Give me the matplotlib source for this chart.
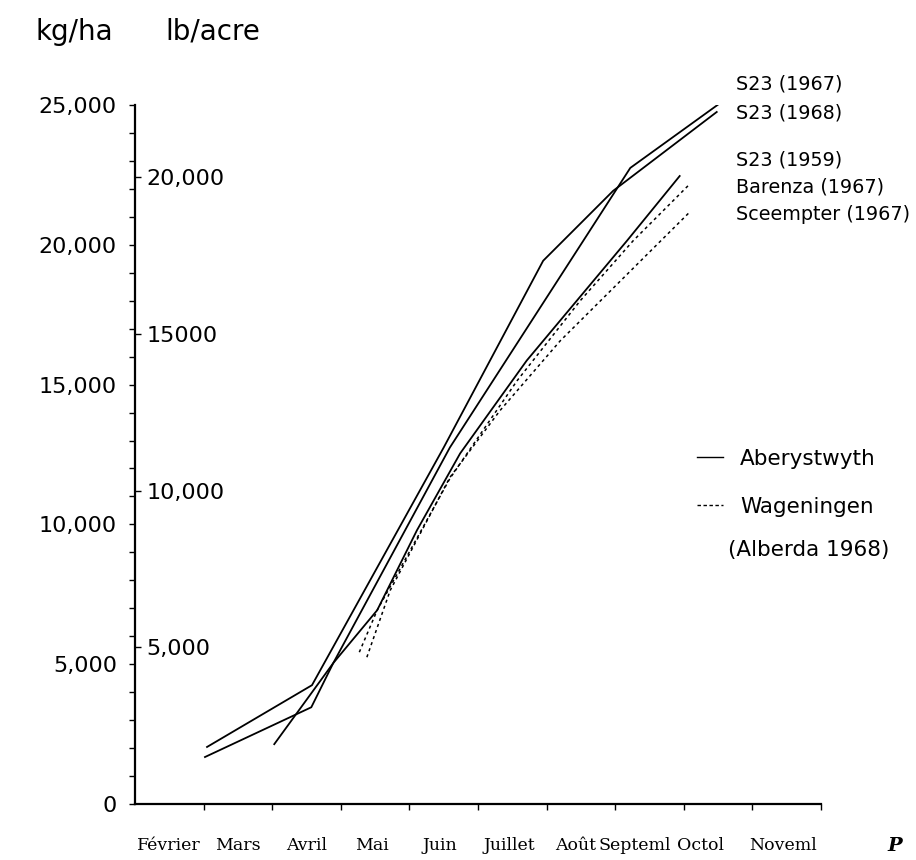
import numpy as np
import matplotlib
matplotlib.use("Agg")
import matplotlib.pyplot as plt
from matplotlib.lines import Line2D

# x = months counted from 1 February, y = dry matter in kg/ha
months = ["Février", "Mars", "Avril", "Mai", "Juin", "Juillet", "Août",
          "Septeml", "Octol", "Noveml"]
month_pos = [0.5, 1.5, 2.5, 3.45, 4.45, 5.45, 6.42, 7.28, 8.24, 9.45]

s23_1967_x = [2.03, 2.89, 4.59, 7.22, 8.57]
s23_1967_y = [2140, 5040, 12750, 22750, 25140]
s23_1968_x = [1.05, 2.58, 4.50, 5.95, 6.97, 8.48]
s23_1968_y = [2040, 4250, 12750, 19430, 21930, 24750]
s23_1959_x = [1.02, 2.57, 2.89, 3.53, 4.11, 4.74, 5.71, 7.17, 7.94]
s23_1959_y = [1680, 3460, 5040, 6930, 9790, 12540, 15860, 20140, 22460]
barenza_x = [3.27, 3.53, 4.59, 5.57, 6.49, 7.26, 8.09]
barenza_y = [5430, 6930, 11640, 15140, 18000, 20140, 22180]
sceempter_x = [3.38, 3.72, 4.59, 5.32, 6.20, 8.09]
sceempter_y = [5250, 7640, 11680, 14070, 16570, 21180]

kg_ticks = [0, 5000, 10000, 15000, 20000, 25000]
kg_labels = ["0", "5,000", "10,000", "15,000", "20,000", "25,000"]
lb_ticks = [5000, 10000, 15000, 20000]
lb_labels = ["5,000", "10,000", "15000", "20,000"]
LB_TO_KG = 1.12085

plt.rcParams['font.family'] = ['DejaVu Sans']

fig = plt.figure(figsize=(9.16, 8.6), dpi=100)
ax = fig.add_axes([135 / 916, 1 - 804 / 860, 686 / 916, 699 / 860])

solid = dict(color='black', lw=1.3, solid_joinstyle='miter')
dashed = dict(color='black', lw=1.1, linestyle=(0, (2.0, 2.2)))
ax.plot(s23_1967_x, s23_1967_y, **solid)
ax.plot(s23_1968_x, s23_1968_y, **solid)
ax.plot(s23_1959_x, s23_1959_y, **solid)
ax.plot(barenza_x, barenza_y, **dashed)
ax.plot(sceempter_x, sceempter_y, **dashed)

ax.set_xlim(0, 10)
ax.set_ylim(0, 25000)
ax.spines['top'].set_visible(False)
ax.spines['right'].set_visible(False)
ax.spines['left'].set_linewidth(1.6)
ax.spines['bottom'].set_linewidth(1.6)

ax.set_xticks(np.arange(1, 11))
ax.set_xticklabels([])
ax.tick_params(axis='x', direction='out', length=4, width=1)

ax.set_yticks(kg_ticks)
ax.set_yticklabels(kg_labels, fontsize=16)
ax.set_yticks(np.arange(0, 25001, 1000), minor=True)
ax.tick_params(axis='y', which='both', direction='out', length=4, width=1, pad=9)

# lb/acre scale drawn on the same spine, labels inside
ax2 = ax.twinx()
ax2.set_ylim(0, 25000 / LB_TO_KG)
ax2.spines['right'].set_position(('axes', 0))
for s in ax2.spines.values():
    s.set_visible(False)
ax2.set_yticks(lb_ticks)
ax2.set_yticklabels(lb_labels, fontsize=16)
ax2.tick_params(axis='y', direction='out', length=4, width=1, pad=4)

# month labels
for name, pos in zip(months, month_pos):
    ax.text(pos, -0.06, name, transform=ax.get_xaxis_transform(), ha='center',
            va='center', family='DejaVu Serif', fontsize=12.5, clip_on=False)
ax.text(11.08, -0.06, "P", transform=ax.get_xaxis_transform(), ha='center',
        va='center', family='DejaVu Serif', fontsize=14, style='italic',
        weight='bold', clip_on=False)

# series names at line ends
names = ["S23 (1967)", "S23 (1968)", "S23 (1959)", "Barenza (1967)", "Sceempter (1967)"]
name_y = [25750, 24710, 23030, 22070, 21070]
for n, y in zip(names, name_y):
    ax.text(8.76, y, n, ha='left', va='center', fontsize=13.8, clip_on=False)

fig.text(36 / 916, 1 - 32 / 860, "kg/ha", fontsize=20, va='center', ha='left')
fig.text(165 / 916, 1 - 32 / 860, "lb/acre", fontsize=20, va='center', ha='left')

handles = [Line2D([], [], color='black', lw=1.0),
           Line2D([], [], color='black', lw=1.0, linestyle=(0, (2.5, 1.8)))]
ax.legend(handles, ["Aberystwyth", "Wageningen"],
          loc='upper left', bbox_to_anchor=(0.819, 0.508),
          frameon=False, fontsize=15.5, handlelength=1.2, handletextpad=0.8,
          labelspacing=1.3, borderaxespad=0, borderpad=0)
ax.text(8.64, 9070, "(Alberda 1968)", ha='left', va='center', fontsize=15.5)

fig.savefig("out.png", dpi=100)
